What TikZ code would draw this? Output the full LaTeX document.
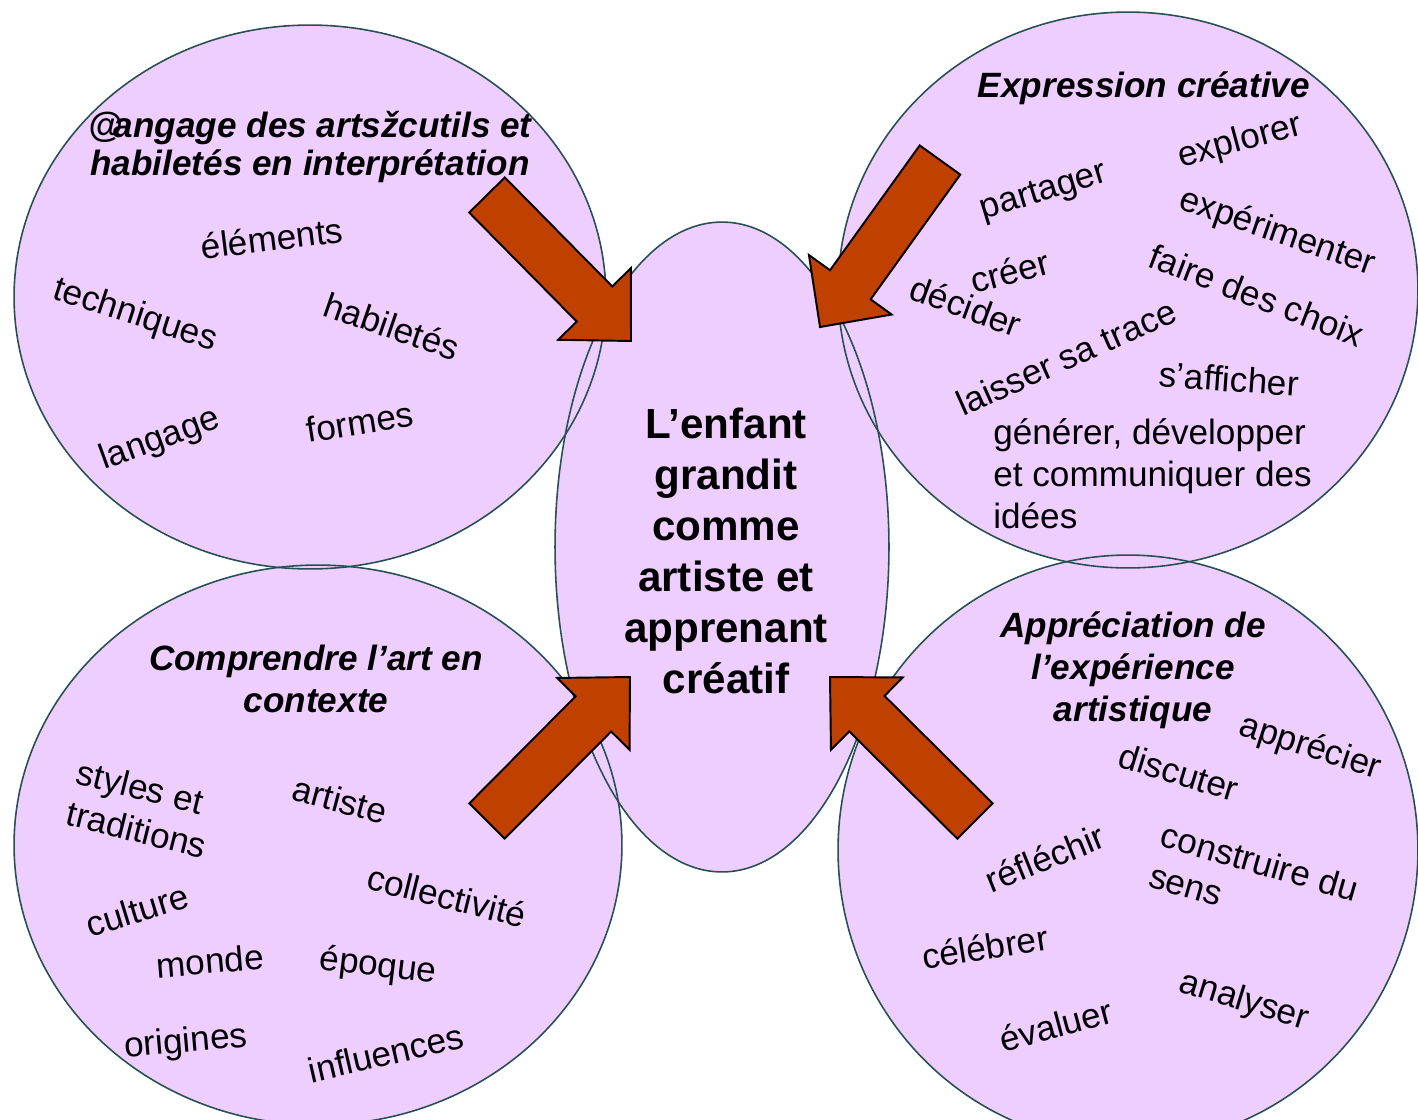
\documentclass[tikz,border=0pt]{standalone}
\usepackage{fontspec}
\setmainfont{Liberation Sans}
\usepackage{xcolor}
\usepackage{tikz}
\usetikzlibrary{calc}
\definecolor{bubblefill}{RGB}{238,206,255}
\definecolor{rimgray}{RGB}{40,80,80}
\definecolor{arrowred}{RGB}{192,64,0}
\tikzset {
  % lavender bubbles
  bubble/.style = {fill=bubblefill},
  rim/.style = {draw=rimgray, line width=0.9pt},
  % small words scattered in the bubbles
  word/.style = {font=\fontsize{20}{24}\selectfont, inner sep=0pt},
  heading/.style = {font=\fontsize{20}{24}\selectfont\bfseries\itshape, align=center, inner sep=0pt},
  core/.style = {font=\fontsize{24}{29}\selectfont\bfseries, align=center, inner sep=0pt},
  % fat arrows pointing to the middle
  blockarrow/.style = {fill=arrowred, draw=black, line width=1.1pt, line join=miter},
}
% fat arrow from #1 (tail) to #2 (tip)
\newcommand{\fatarrow}[2]{%
  \draw[blockarrow] (#2)
    -- ($(#2)!1.04cm!(#1)!1.02cm!90:(#2)$)
    -- ($(#2)!1.04cm!(#1)!0.5cm!90:(#2)$)
    -- ($(#1)!0.5cm!90:(#2)$)
    -- ($(#1)!0.5cm!-90:(#2)$)
    -- ($(#2)!1.04cm!(#1)!0.5cm!-90:(#2)$)
    -- ($(#2)!1.04cm!(#1)!1.02cm!-90:(#2)$)
    -- cycle;}
\begin{document}
\begin{tikzpicture}[x=0.02cm, y=-0.02cm]
      \useasboundingbox (0,0) rectangle (1418,1120);

      % bubbles: fill first, outlines after
      \foreach \cx/\cy/\rx/\ry in {310/297/5.92cm/5.44cm, 1128/290/5.8cm/5.56cm,
          318/845/6.08cm/5.6cm, 1128/850/5.8cm/5.9cm, 722/547/3.34cm/6.5cm}
        \fill[bubble] (\cx,\cy) ellipse [x radius=\rx, y radius=\ry];
      \foreach \cx/\cy/\rx/\ry in {310/297/5.92cm/5.44cm, 1128/290/5.8cm/5.56cm,
          318/845/6.08cm/5.6cm, 1128/850/5.8cm/5.9cm, 722/547/3.34cm/6.5cm}
        \draw[rim] (\cx,\cy) ellipse [x radius=\rx, y radius=\ry];

      \node[core] (kid) at (726,551) {L’enfant\\grandit\\comme\\artiste et\\apprenant\\créatif};

      % arrows
      \coordinate (tl-tail) at (487,195);
      \coordinate (tl-tip) at (631,341);
      \coordinate (tr-tail) at (940,160);
      \coordinate (tr-tip) at (820,327);
      \coordinate (bl-tail) at (487,821);
      \coordinate (bl-tip) at (630,677);
      \coordinate (br-tail) at (975,821);
      \coordinate (br-tip) at (830,677);
      \fatarrow{tl-tail}{tl-tip}
      \fatarrow{tr-tail}{tr-tip}
      \fatarrow{bl-tail}{bl-tip}
      \fatarrow{br-tail}{br-tip}

      % top left
      \node[heading, font=\fontsize{20}{22}\selectfont\bfseries\itshape] (langtitle) at (310,147)
        {@\kern-.25em angage des artsžcutils et\\habiletés en interprétation};
      \node[word, rotate=7] (elements) at (272,238) {éléments};
      \node[word, rotate=-18] (techniques) at (135,316) {techniques};
      \node[word, rotate=-19] (habiletes) at (392,326) {habiletés};
      \node[word, rotate=20] (langage) at (160,440) {langage};
      \node[word, rotate=9] (formes) at (360,422) {formes};

      % top right
      \node[heading] (exprtitle) at (1144,88) {Expression créative};
      \node[word, rotate=15] (explorer) at (1240,142) {explorer};
      \node[word, rotate=17] (partager) at (1044,193) {partager};
      \node[word, rotate=-19] (experimenter) at (1277,233) {expérimenter};
      \node[word, rotate=15] (creer) at (1010,271) {créer};
      \node[word, rotate=-20] (decider) at (966,306) {décider};
      \node[word, rotate=-21] (choix) at (1257,295) {faire des choix};
      \node[word, rotate=24] (trace) at (1066,357) {laisser sa trace};
      \node[word, rotate=-4] (afficher) at (1229,379) {s’afficher};
      \node[word, align=left, anchor=west] (generer) at (993,474)
        {générer, développer\\et communiquer des\\idées};

      % bottom left
      \node[heading] (ctxtitle) at (316,679) {Comprendre l’art en\\contexte};
      \node[word, align=left, rotate=-14] (styles) at (142,809) {styles et\\traditions};
      \node[word, rotate=-15] (artiste) at (340,800) {artiste};
      \node[word, rotate=-14] (collectivite) at (447,896) {collectivité};
      \node[word, rotate=17] (culture) at (137,910) {culture};
      \node[word, rotate=5] (monde) at (210,961) {monde};
      \node[word, rotate=-7] (epoque) at (378,967) {époque};
      \node[word, rotate=5] (origines) at (186,1043) {origines};
      \node[word, rotate=13] (influences) at (386,1053) {influences};

      % bottom right
      \node[heading] (apprtitle) at (1133,670) {Appréciation de\\l’expérience\\artistique};
      \node[word, rotate=-18] (apprecier) at (1310,748) {apprécier};
      \node[word, rotate=-17] (discuter) at (1179,772) {discuter};
      \node[word, rotate=22] (reflechir) at (1045,858) {réfléchir};
      \node[word, align=left, rotate=-16] (sens) at (1254,882) {construire du\\sens};
      \node[word, rotate=9] (celebrer) at (985,947) {célébrer};
      \node[word, rotate=-17] (analyser) at (1244,1002) {analyser};
      \node[word, rotate=15] (evaluer) at (1056,1025) {évaluer};
    \end{tikzpicture}
\end{document}
